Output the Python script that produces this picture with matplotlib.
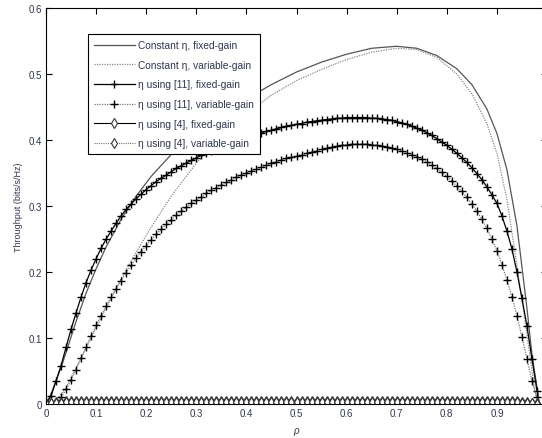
import numpy as np
import matplotlib
matplotlib.use("Agg")
import matplotlib.pyplot as plt

plt.rcParams["font.family"] = ["Liberation Sans", "DejaVu Sans"]

# marker grid for the eta-based series
rho = np.round(np.arange(0, 0.985, 0.01), 2)

fix11 = [0.000, 0.012, 0.035, 0.058, 0.086, 0.113, 0.138, 0.162, 0.184, 0.203,
         0.220, 0.236, 0.250, 0.262, 0.274, 0.285, 0.295, 0.303, 0.311, 0.318,
         0.325, 0.331, 0.337, 0.342, 0.347, 0.352, 0.357, 0.361, 0.365, 0.369,
         0.373, 0.377, 0.380, 0.384, 0.387, 0.390, 0.393, 0.396, 0.399, 0.401,
         0.404, 0.406, 0.409, 0.411, 0.413, 0.415, 0.417, 0.419, 0.421, 0.422,
         0.424, 0.425, 0.427, 0.428, 0.429, 0.430, 0.431, 0.432, 0.433, 0.433,
         0.434, 0.434, 0.434, 0.434, 0.434, 0.433, 0.433, 0.432, 0.431, 0.430,
         0.428, 0.426, 0.424, 0.421, 0.418, 0.415, 0.411, 0.407, 0.402, 0.397,
         0.392, 0.386, 0.380, 0.373, 0.366, 0.358, 0.349, 0.340, 0.329, 0.317,
         0.304, 0.285, 0.262, 0.235, 0.200, 0.160, 0.118, 0.068, 0.020]

var11 = [0.000, 0.000, 0.003, 0.010, 0.022, 0.036, 0.052, 0.069, 0.086, 0.103,
         0.119, 0.134, 0.149, 0.162, 0.175, 0.187, 0.199, 0.210, 0.221, 0.231,
         0.240, 0.249, 0.257, 0.265, 0.272, 0.279, 0.286, 0.292, 0.298, 0.304,
         0.309, 0.314, 0.319, 0.324, 0.328, 0.332, 0.336, 0.340, 0.344, 0.347,
         0.350, 0.353, 0.356, 0.359, 0.362, 0.365, 0.367, 0.370, 0.372, 0.374,
         0.376, 0.378, 0.380, 0.382, 0.384, 0.386, 0.388, 0.389, 0.391, 0.392,
         0.393, 0.394, 0.394, 0.394, 0.394, 0.393, 0.392, 0.391, 0.390, 0.388,
         0.386, 0.384, 0.381, 0.378, 0.375, 0.371, 0.367, 0.362, 0.357, 0.351,
         0.345, 0.338, 0.330, 0.322, 0.313, 0.303, 0.292, 0.280, 0.266, 0.250,
         0.232, 0.211, 0.188, 0.162, 0.134, 0.102, 0.068, 0.035, 0.010]

fix4 = [0.001, 0.002, 0.003, 0.003, 0.004, 0.004, 0.004, 0.004, 0.004, 0.004,
        0.004, 0.004, 0.004, 0.004, 0.004, 0.004, 0.004, 0.004, 0.004, 0.004,
        0.004, 0.004, 0.004, 0.004, 0.004, 0.004, 0.004, 0.004, 0.004, 0.004,
        0.004, 0.004, 0.004, 0.004, 0.004, 0.004, 0.004, 0.004, 0.004, 0.004,
        0.004, 0.004, 0.004, 0.004, 0.004, 0.004, 0.004, 0.004, 0.004, 0.004,
        0.004, 0.004, 0.004, 0.004, 0.004, 0.004, 0.004, 0.004, 0.004, 0.004,
        0.004, 0.004, 0.004, 0.004, 0.004, 0.004, 0.004, 0.004, 0.004, 0.004,
        0.004, 0.004, 0.004, 0.004, 0.004, 0.004, 0.004, 0.004, 0.004, 0.004,
        0.004, 0.004, 0.004, 0.004, 0.004, 0.004, 0.004, 0.004, 0.004, 0.004,
        0.004, 0.004, 0.004, 0.004, 0.004, 0.003, 0.003, 0.002, 0.001]

var4 = [0.000, 0.001, 0.002, 0.002, 0.003, 0.003, 0.003, 0.003, 0.003, 0.003,
        0.003, 0.003, 0.003, 0.003, 0.003, 0.003, 0.003, 0.003, 0.003, 0.003,
        0.003, 0.003, 0.003, 0.003, 0.003, 0.003, 0.003, 0.003, 0.003, 0.003,
        0.003, 0.003, 0.003, 0.003, 0.003, 0.003, 0.003, 0.003, 0.003, 0.003,
        0.003, 0.003, 0.003, 0.003, 0.003, 0.003, 0.003, 0.003, 0.003, 0.003,
        0.003, 0.003, 0.003, 0.003, 0.003, 0.003, 0.003, 0.003, 0.003, 0.003,
        0.003, 0.003, 0.003, 0.003, 0.003, 0.003, 0.003, 0.003, 0.003, 0.003,
        0.003, 0.003, 0.003, 0.003, 0.003, 0.003, 0.003, 0.003, 0.003, 0.003,
        0.003, 0.003, 0.003, 0.003, 0.003, 0.003, 0.003, 0.003, 0.003, 0.003,
        0.003, 0.003, 0.003, 0.003, 0.003, 0.002, 0.002, 0.001, 0.000]

# constant eta curves (no markers)
rho_cf = [0, 0.01, 0.02, 0.03, 0.04, 0.06, 0.08, 0.10, 0.12, 0.15, 0.18, 0.21,
          0.25, 0.30, 0.35, 0.40, 0.45, 0.50, 0.55, 0.60, 0.65, 0.70, 0.74,
          0.78, 0.82, 0.85, 0.88, 0.90, 0.92, 0.94, 0.96, 0.97, 0.98, 0.985]
const_fix = [0, 0.015, 0.035, 0.055, 0.078, 0.125, 0.168, 0.205, 0.238, 0.280,
             0.315, 0.345, 0.378, 0.410, 0.438, 0.462, 0.484, 0.503, 0.518,
             0.530, 0.539, 0.542, 0.539, 0.528, 0.508, 0.484, 0.447, 0.410,
             0.355, 0.270, 0.145, 0.075, 0.025, 0.0]

rho_cv = [0, 0.02, 0.04, 0.06, 0.08, 0.10, 0.12, 0.15, 0.18, 0.21, 0.25, 0.30,
          0.35, 0.40, 0.45, 0.50, 0.55, 0.60, 0.65, 0.70, 0.74, 0.78, 0.82,
          0.85, 0.88, 0.90, 0.92, 0.94, 0.96, 0.97, 0.98]
const_var = [0, 0.005, 0.025, 0.055, 0.085, 0.115, 0.145, 0.190, 0.230, 0.268,
             0.315, 0.365, 0.405, 0.440, 0.468, 0.490, 0.507, 0.522, 0.533,
             0.539, 0.537, 0.525, 0.500, 0.470, 0.425, 0.380, 0.310, 0.210,
             0.105, 0.050, 0.0]

xticks = [0, 0.1, 0.2, 0.3, 0.4, 0.5, 0.6, 0.7, 0.8, 0.9, 1.0]
xticklabels = ["0", "0.1", "0.2", "0.3", "0.4", "0.5", "0.6", "0.7", "0.8", "0.9", ""]
yticks = [0, 0.1, 0.2, 0.3, 0.4, 0.5, 0.6]
yticklabels = ["0", "0.1", "0.2", "0.3", "0.4", "0.5", "0.6"]

fig = plt.figure(figsize=(5.42, 4.39), dpi=100)
ax = fig.add_axes([46 / 542, 34 / 439, 501 / 542, 396 / 439])

ax.plot(rho_cf, const_fix, color="#555555", lw=0.9, ls="-",
        label="Constant η, fixed-gain")
ax.plot(rho_cv, const_var, color="#888888", lw=0.9, ls=(0, (1, 1)),
        label="Constant η, variable-gain")
ax.plot(rho, fix11, color="black", lw=0.9, ls="-", marker="+", ms=6, mew=1.0,
        label="η using [11], fixed-gain")
ax.plot(rho, var11, color="#777777", lw=0.9, ls=(0, (1, 1)), marker="+", ms=6,
        mew=1.0, mec="black", label="η using [11], variable-gain")
ax.plot(rho, fix4, color="black", lw=0.8, ls="-", marker="d", ms=5, mew=0.8,
        mfc="white", mec="#333333", label="η using [4], fixed-gain")
ax.plot(rho, var4, color="#777777", lw=0.8, ls=(0, (1, 1)), marker="d", ms=5,
        mew=0.8, mfc="white", mec="#333333", label="η using [4], variable-gain")

ax.set_xlim(0, 1.0)
ax.set_ylim(0, 0.6)
ax.set_xticks(xticks)
ax.set_xticklabels(xticklabels)
ax.set_yticks(yticks)
ax.set_yticklabels(yticklabels)
ax.tick_params(direction="in", length=4, width=0.8, top=True, right=True,
               labelsize=7, labelcolor="#2e3650", pad=3)
for s in ax.spines.values():
    s.set_linewidth(0.8)

ax.set_xlabel("ρ", fontsize=7, style="italic", color="#2e3650", labelpad=5)
ax.set_ylabel("Throughput (bits/s/Hz)", fontsize=6.5, color="#2e3650", labelpad=4)

leg = ax.legend(loc="upper left", bbox_to_anchor=(0.084, 0.934), borderaxespad=0,
                fontsize=7.3, handlelength=4.0, handletextpad=0.3, labelspacing=0.95,
                numpoints=1, fancybox=False, framealpha=1, edgecolor="black",
                borderpad=0.6)
leg.get_frame().set_linewidth(0.8)
for t in leg.get_texts():
    t.set_color("#2e3650")

fig.savefig("out.png", dpi=100)
